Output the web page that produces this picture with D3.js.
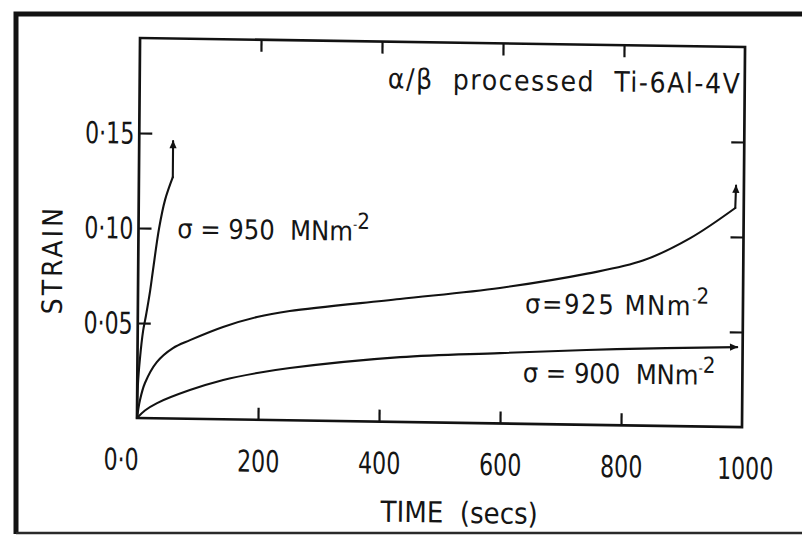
<!DOCTYPE html>
<html>
<head>
<meta charset="utf-8">
<script src="https://cdn.jsdelivr.net/npm/d3@7"></script>
<style>
  html, body { margin: 0; padding: 0; background: #fff; }
  svg { display: block; }
  text { font-family: 'DejaVu Sans Condensed', 'DejaVu Sans', sans-serif; fill: #151515; white-space: pre; }
</style>
</head>
<body>
<svg id="chart" width="802" height="536"></svg>
<script>
// Creep curves (strain vs time) for α/β processed Ti-6Al-4V at three stresses.
const stressLevels = [950, 925, 900];   // MN m^-2

const time950   = [0, 1, 4, 9, 13.5, 20, 24.5, 34, 43.5, 56];
const strain950 = [0, 0.017, 0.031, 0.046, 0.054, 0.067, 0.078, 0.100, 0.115, 0.127];
const tailTime950   = [56, 56];
const tailStrain950 = [0.127, 0.146];

const time925   = [0, 4.7, 12.7, 32, 58.5, 86.6, 141, 197, 251, 433, 598, 742, 834, 912, 986];
const strain925 = [0, 0.0095, 0.0185, 0.0296, 0.0371, 0.0414, 0.0486, 0.0541, 0.0575, 0.0647, 0.0713, 0.0795, 0.0868, 0.099, 0.1152];
const tailTime925   = [986, 987];
const tailStrain925 = [0.1152, 0.127];

const time900   = [0, 13, 33, 87, 142, 198, 252, 434, 599, 792, 991];
const strain900 = [0, 0.004, 0.008, 0.0151, 0.0207, 0.0246, 0.0275, 0.0341, 0.0370, 0.040, 0.042];

const xTickValues = [0, 200, 400, 600, 800, 1000];
const xTickLabels = ["0·0", "200", "400", "600", "800", "1000"];
const yTickValues = [0.05, 0.10, 0.15];
const yTickLabels = ["0·05", "0·10", "0·15"];

const W = 802, H = 536;
const INK = "#121212";
const NARROW = 0.82;   // horizontal squeeze for the tall, narrow numerals
const svg = d3.select("#chart");
svg.append("rect").attr("width", W).attr("height", H).attr("fill", "#fff");

// Outer frame: heavy left and top rules, lighter bottom rule, open on the right.
svg.append("path")
  .attr("d", "M16,534 L16,14 L812,14")
  .attr("fill", "none").attr("stroke", INK).attr("stroke-width", 5);
svg.append("line")
  .attr("x1", 16).attr("y1", 533).attr("x2", 812).attr("y2", 533)
  .attr("stroke", "#2a2a2a").attr("stroke-width", 2.5);

const defs = svg.append("defs");
defs.append("marker")
  .attr("id", "arrow").attr("viewBox", "0 0 10 10")
  .attr("refX", 9).attr("refY", 5)
  .attr("markerWidth", 9).attr("markerHeight", 8)
  .attr("markerUnits", "userSpaceOnUse").attr("orient", "auto")
  .append("path").attr("d", "M0,0.5 L10,5 L0,9.5 Z").attr("fill", INK);

const plotW = 605, plotH = 380;
const x = d3.scaleLinear().domain([0, 1000]).range([0, plotW]);
const y = d3.scaleLinear().domain([0, 0.20]).range([0, -plotH]);

// The plotted sheet sits slightly askew inside its frame.
const plot = svg.append("g").attr("transform", "matrix(1,0.0149,-0.008,1,137,418)");

function styleAxis(g) {
  g.attr("font-family", null).attr("font-size", null);
  g.select(".domain").remove();
  g.selectAll(".tick line").attr("stroke", INK).attr("stroke-width", 2.2);
}

// bottom axis with labels
const axB = plot.append("g")
  .call(d3.axisBottom(x).tickValues(xTickValues).tickSizeInner(-12).tickSizeOuter(0)
    .tickFormat((d, i) => xTickLabels[i]));
styleAxis(axB);
axB.selectAll(".tick").filter(d => d === 0 || d === 1000).select("line").remove();
axB.selectAll(".tick text")
  .attr("y", 52).attr("dy", null).attr("font-size", 30)
  .attr("transform", `scale(${NARROW},1)`);
axB.selectAll(".tick text").filter(d => d === 0).attr("x", -16 / NARROW);
axB.selectAll(".tick text").filter(d => d === 1000).attr("x", 3 / NARROW);

// top axis, ticks only
const axT = plot.append("g").attr("transform", `translate(0,${-plotH})`)
  .call(d3.axisTop(x).tickValues([200, 400, 600, 800]).tickSizeInner(-12).tickSizeOuter(0).tickFormat(""));
styleAxis(axT);

// left axis with labels
const axL = plot.append("g")
  .call(d3.axisLeft(y).tickValues(yTickValues).tickSizeInner(-13).tickSizeOuter(0).tickPadding(5)
    .tickFormat((d, i) => yTickLabels[i]));
styleAxis(axL);
axL.selectAll(".tick text")
  .attr("font-size", 30).attr("dy", "0.34em")
  .attr("x", -5 / NARROW).attr("transform", `scale(${NARROW},1)`);

// right axis, ticks only
const axR = plot.append("g").attr("transform", `translate(${plotW},0)`)
  .call(d3.axisRight(y).tickValues(yTickValues).tickSizeInner(-13).tickSizeOuter(0).tickFormat(""));
styleAxis(axR);

// plot box
plot.append("rect")
  .attr("x", x(0)).attr("y", y(0.20)).attr("width", x(1000) - x(0)).attr("height", y(0) - y(0.20))
  .attr("fill", "none").attr("stroke", INK).attr("stroke-width", 2.7);

// creep curves
const zip = (ts, ss) => ts.map((t, i) => ({ t, s: ss[i] }));
const smooth = d3.line().x(d => x(d.t)).y(d => y(d.s)).curve(d3.curveCatmullRom.alpha(0.5));
const straight = d3.line().x(d => x(d.t)).y(d => y(d.s));

function curve(path, gen, withArrow) {
  const p = plot.append("path").attr("d", gen(path))
    .attr("fill", "none").attr("stroke", INK).attr("stroke-width", 2.1)
    .attr("stroke-linejoin", "round").attr("stroke-linecap", "round");
  if (withArrow) p.attr("marker-end", "url(#arrow)");
}
curve(zip(time950, strain950), smooth, false);
curve(zip(tailTime950, tailStrain950), straight, true);
curve(zip(time925, strain925), smooth, false);
curve(zip(tailTime925, tailStrain925), straight, true);
curve(zip(time900, strain900), smooth, true);

// stress labels
function stressLabel(value, t, s, spaced) {
  const txt = plot.append("text").attr("x", x(t)).attr("y", y(s)).attr("font-size", 27);
  const main = txt.append("tspan").text(spaced ? `σ = ${value}  MNm` : `σ=${value} MNm`);
  if (!spaced) main.attr("letter-spacing", 1.6);
  txt.append("tspan").attr("font-size", 13).attr("dy", -12).attr("letter-spacing", 0).text("-");
  txt.append("tspan").attr("font-size", 22).text("2");
}
stressLabel(stressLevels[0], 64, 0.095, true);
stressLabel(stressLevels[1], 640, 0.0583, false);
stressLabel(stressLevels[2], 637, 0.022, true);

// material note
plot.append("text")
  .attr("x", x(992)).attr("y", y(0.1755))
  .attr("text-anchor", "end").attr("font-size", 28)
  .attr("textLength", 352).attr("lengthAdjust", "spacing")
  .text("α/β  processed  Ti-6Al-4V");

// axis titles
plot.append("text")
  .attr("x", 323).attr("y", 100)
  .attr("text-anchor", "middle").attr("font-size", 29)
  .text("TIME  (secs)");
plot.append("text")
  .attr("transform", "translate(-76,-157) rotate(-90)")
  .attr("text-anchor", "middle").attr("font-size", 28).attr("letter-spacing", 3)
  .text("STRAIN");
</script>
</body>
</html>
